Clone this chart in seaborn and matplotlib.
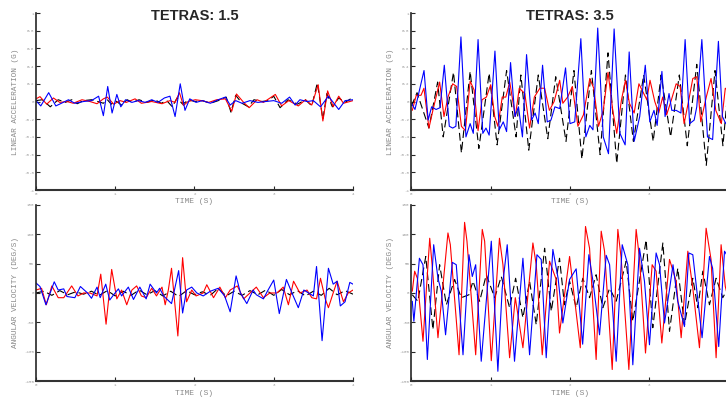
import matplotlib
matplotlib.use("Agg")
import matplotlib.pyplot as plt
import seaborn as sns

# ---- data (turning points of each trace) ----
TITLES = ["TETRAS: 1.5", "TETRAS: 3.5"]
ACC_LABEL = "LINEAR ACCELERATION (G)"
VEL_LABEL = "ANGULAR VELOCITY (DEG/S)"
TIME_LABEL = "TIME (S)"
X_TICKS_LEFT = [0, 1, 2, 3, 4]
X_TICK_LABELS_LEFT = ["0", "1", "2", "3", "4"]
X_TICKS_RIGHT = [0, 1, 2, 3]
X_TICK_LABELS_RIGHT = ["0", "1", "2", "3"]
ACC_TICKS = [-1, -0.8, -0.6, -0.4, -0.2, 0, 0.2, 0.4, 0.6, 0.8, 1]
ACC_TICK_LABELS = ["-1", "-0.8", "-0.6", "-0.4", "-0.2", "0", "0.2", "0.4", "0.6", "0.8", "1"]
VEL_TICKS = [-150, -100, -50, 0, 50, 100, 150]
VEL_TICK_LABELS = ["-150", "-100", "-50", "0", "50", "100", "150"]

# tetras 1.5, linear acceleration
acc15_blue_t = [0, 0.06, 0.16, 0.25, 0.32, 0.41, 0.49, 0.6, 0.7, 0.79,
                0.85, 0.905, 0.96, 1.02, 1.07, 1.13, 1.21, 1.29, 1.38, 1.46,
                1.54, 1.62, 1.69, 1.755, 1.82, 1.88, 1.94, 2.02, 2.1, 2.2,
                2.3, 2.39, 2.45, 2.52, 2.6, 2.7, 2.8, 2.9, 3.0, 3.1,
                3.2, 3.27, 3.33, 3.42, 3.5, 3.59, 3.69, 3.82, 3.9, 4.0]
acc15_blue_v = [0.01, -0.05, 0.1, -0.05, -0.02, 0.02, -0.02, 0.0, 0.01, 0.06,
                -0.16, 0.17, -0.13, 0.08, -0.06, 0.02, -0.01, 0.01, -0.01, 0.02,
                -0.01, 0.04, 0.06, -0.17, 0.2, -0.1, 0.03, -0.01, 0.01, -0.02,
                0.02, 0.05, -0.04, 0.01, -0.02, 0.01, -0.01, 0.0, 0.01, -0.02,
                0.05, -0.04, 0.02, 0.0, 0.01, -0.06, 0.06, -0.09, 0.01, 0.02]
acc15_red_t = [0, 0.05, 0.135, 0.22, 0.3, 0.39, 0.47, 0.58, 0.68, 0.77,
               0.85, 0.9, 0.98, 1.06, 1.14, 1.25, 1.33, 1.46, 1.59, 1.69,
               1.755, 1.81, 1.86, 1.92, 2.01, 2.09, 2.18, 2.28, 2.39, 2.47,
               2.53, 2.62, 2.69, 2.79, 2.87, 3.02, 3.1, 3.19, 3.31, 3.4,
               3.48, 3.56, 3.62, 3.68, 3.75, 3.82, 3.88, 3.96, 4.0]
acc15_red_v = [0.03, 0.055, -0.03, 0.04, -0.01, 0.0, -0.02, 0.02, 0.0, -0.025,
               0.03, 0.05, -0.03, 0.01, -0.01, 0.03, -0.02, 0.0, -0.025, 0.01,
               -0.01, 0.1, -0.045, 0.0, 0.02, 0.01, -0.01, 0.02, 0.03, -0.11,
               0.085, -0.01, -0.07, 0.02, -0.01, 0.08, -0.05, 0.01, -0.05, 0.02,
               -0.04, 0.19, -0.22, 0.12, -0.06, 0.06, -0.02, 0.0, 0.01]
acc15_black_t = [0, 0.08, 0.18, 0.28, 0.37, 0.45, 0.52, 0.6, 0.7, 0.78,
                 0.85, 0.9, 0.95, 1.0, 1.08, 1.15, 1.22, 1.3, 1.4, 1.5,
                 1.58, 1.65, 1.72, 1.78, 1.85, 1.93, 2.0, 2.1, 2.2, 2.3,
                 2.4, 2.46, 2.52, 2.6, 2.68, 2.75, 2.85, 2.93, 3.0, 3.08,
                 3.18, 3.3, 3.4, 3.48, 3.55, 3.62, 3.67, 3.74, 3.82, 3.9, 3.97]
acc15_black_v = [0.01, 0.02, -0.06, 0.02, -0.01, 0.02, -0.025, 0.01, 0.02, 0.0,
                 -0.02, 0.02, -0.03, 0.01, -0.04, 0.02, -0.01, 0.02, -0.01, 0.02,
                 -0.02, 0.01, -0.06, 0.04, -0.03, 0.02, 0.0, 0.01, -0.02, 0.01,
                 0.05, -0.12, 0.07, -0.02, -0.06, 0.02, 0.0, 0.01, 0.06, -0.07,
                 0.02, -0.03, 0.02, -0.05, 0.21, -0.2, 0.09, -0.06, 0.04, -0.01, 0.03]

# tetras 1.5, angular velocity
vel15_blue_t = [0, 0.05, 0.125, 0.23, 0.28, 0.35, 0.39, 0.49, 0.56, 0.65,
                0.7, 0.77, 0.81, 0.88, 0.93, 0.98, 1.04, 1.08, 1.165, 1.23,
                1.31, 1.39, 1.44, 1.52, 1.56, 1.61, 1.71, 1.8, 1.85, 1.9,
                1.965, 2.03, 2.11, 2.2, 2.3, 2.38, 2.45, 2.525, 2.58, 2.66,
                2.74, 2.78, 2.87, 2.92, 3.0, 3.07, 3.16, 3.23, 3.31, 3.38,
                3.44, 3.5, 3.54, 3.61, 3.69, 3.75, 3.8, 3.84, 3.9, 3.96, 4.0]
vel15_blue_v = [17, 11, -20, 19, 5, 7, -6, -8, 11, 0,
                -9, 10, -8, 15, -12, -3, 7, -5, 10, -11,
                10, -10, 15, 0, 8, -5, -18, 38, -34, 5,
                10, 0, -5, 3, 8, -5, -32, 29, 0, -18,
                5, -3, -10, 3, 22, -35, 23, 0, -25, 5,
                0, -5, 45, -81, 42, 15, 20, -22, -15, 18, 15]
vel15_red_t = [0, 0.07, 0.13, 0.2, 0.28, 0.35, 0.45, 0.53, 0.6, 0.68,
               0.77, 0.817, 0.884, 0.955, 1.02, 1.08, 1.145, 1.21, 1.27, 1.33,
               1.39, 1.46, 1.52, 1.59, 1.63, 1.67, 1.71, 1.79, 1.85, 1.9,
               1.965, 2.02, 2.11, 2.155, 2.24, 2.32, 2.39, 2.45, 2.54, 2.62,
               2.7, 2.78, 2.87, 2.95, 3.04, 3.12, 3.185, 3.25, 3.33, 3.42,
               3.48, 3.54, 3.59, 3.65, 3.69, 3.75, 3.8, 3.88, 3.94, 4.0]
vel15_red_v = [5, 8, -20, 12, -8, -8, 12, -5, 0, 0,
               -5, 32, -53, 40, -10, 5, -20, 5, 12, -5,
               -8, 8, -5, 10, -20, 5, 42, -73, 60, -15,
               5, -5, 0, 14, -8, 10, -8, 5, 12, -10,
               0, 10, -8, 0, 0, 10, -20, 20, 0, 5,
               -8, -10, 25, -10, -25, 0, 20, -15, 0, 5]
vel15_black_t = [0, 0.1, 0.2, 0.3, 0.4, 0.5, 0.6, 0.7, 0.8, 0.9,
                 1.0, 1.1, 1.2, 1.3, 1.4, 1.5, 1.6, 1.7, 1.8, 1.9,
                 2.0, 2.1, 2.2, 2.3, 2.4, 2.5, 2.6, 2.7, 2.8, 2.9,
                 3.0, 3.1, 3.2, 3.3, 3.4, 3.5, 3.6, 3.7, 3.8, 3.9, 4.0]
vel15_black_v = [0, 3, -4, 4, -3, 2, -2, 3, -4, 4,
                 -5, 3, -4, 5, -3, 4, -5, 3, -6, 4,
                 -3, 2, -4, 8, -5, 3, -4, 4, -3, 5,
                 -4, 6, -3, 4, -5, 3, -4, 8, -3, 4, -2]

# tetras 3.5, linear acceleration
acc35_blue_t = [0, 0.044, 0.158, 0.21, 0.254, 0.31, 0.36, 0.414, 0.477, 0.52,
                0.56, 0.624, 0.687, 0.74, 0.78, 0.84, 0.9, 0.94, 0.98, 1.053,
                1.107, 1.158, 1.2, 1.25, 1.305, 1.35, 1.4, 1.452, 1.515, 1.56,
                1.6, 1.654, 1.713, 1.76, 1.81, 1.87, 1.944, 2.0, 2.06, 2.137,
                2.2, 2.25, 2.29, 2.35, 2.42, 2.486, 2.557, 2.63, 2.696, 2.747,
                2.81, 2.88, 2.95, 3.007, 3.06, 3.1, 3.16, 3.2, 3.25, 3.285,
                3.34, 3.4, 3.453, 3.51, 3.567, 3.6, 3.664, 3.735, 3.8, 3.873,
                3.924, 3.966, 4.0]
acc35_blue_v = [-0.02, -0.09, 0.35, -0.21, -0.06, -0.09, -0.07, 0.41, -0.28, -0.3,
                -0.28, 0.73, -0.4, -0.25, -0.36, 0.7, -0.36, -0.3, -0.38, 0.57,
                -0.32, -0.23, -0.34, 0.44, -0.17, -0.06, -0.4, 0.53, -0.21, -0.13,
                -0.25, 0.41, -0.23, -0.21, -0.06, -0.08, 0.38, -0.25, -0.23, 0.71,
                -0.4, -0.27, -0.32, 0.83, -0.4, -0.59, 0.82, -0.36, -0.49, 0.56,
                -0.45, -0.17, 0.41, -0.23, -0.1, -0.27, 0.34, -0.17, 0.09, -0.1,
                -0.1, -0.13, 0.7, -0.25, -0.21, -0.06, 0.7, -0.4, -0.43, 0.68,
                -0.17, -0.25, -0.2]
acc35_red_t = [0.01, 0.06, 0.12, 0.157, 0.22, 0.27, 0.355, 0.41, 0.46, 0.52,
               0.57, 0.63, 0.68, 0.74, 0.79, 0.84, 0.89, 0.945, 1.0, 1.05,
               1.09, 1.145, 1.19, 1.24, 1.31, 1.36, 1.43, 1.49, 1.55, 1.62,
               1.68, 1.74, 1.8, 1.87, 1.91, 1.97, 2.03, 2.1, 2.17, 2.25,
               2.3, 2.36, 2.42, 2.48, 2.54, 2.59, 2.65, 2.7, 2.75, 2.81,
               2.87, 2.92, 2.97, 3.01, 3.07, 3.12, 3.17, 3.22, 3.28, 3.34,
               3.39, 3.44, 3.5, 3.55, 3.6, 3.65, 3.72, 3.78, 3.84, 3.91,
               3.96, 4.0]
acc35_red_v = [-0.1, 0.07, 0.07, 0.15, -0.3, -0.1, 0.22, -0.17, 0.05, 0.2,
               0.17, -0.28, -0.33, 0.23, 0.13, -0.33, 0.02, 0.05, 0.19, -0.17,
               -0.28, 0.05, 0.05, 0.22, -0.17, 0.15, 0.09, -0.3, 0.05, 0.15,
               0.15, -0.1, 0.0, 0.24, -0.02, 0.05, 0.17, -0.28, -0.15, 0.26,
               0.15, -0.28, -0.1, 0.33, -0.1, -0.36, 0.02, 0.24, -0.02, -0.13,
               0.2, 0.11, 0.02, 0.24, 0.0, -0.13, 0.05, -0.15, 0.02, 0.2,
               0.17, -0.25, 0.02, 0.26, 0.28, -0.23, 0.05, 0.26, -0.1, -0.25,
               0.15, 0.12]
acc35_black_t = [0, 0.07, 0.22, 0.33, 0.4, 0.53, 0.63, 0.74, 0.85, 0.98,
                 1.08, 1.2, 1.32, 1.38, 1.48, 1.6, 1.72, 1.82, 1.95, 2.05,
                 2.15, 2.27, 2.38, 2.48, 2.59, 2.7, 2.8, 2.93, 3.05, 3.15,
                 3.27, 3.38, 3.48, 3.6, 3.72, 3.83, 3.93, 4.0]
acc35_black_v = [-0.05, 0.1, -0.3, 0.22, -0.4, 0.33, -0.58, 0.34, -0.53, 0.32,
                 -0.49, 0.35, -0.4, 0.3, -0.55, 0.3, -0.42, 0.28, -0.45, 0.35,
                 -0.65, 0.35, -0.6, 0.55, -0.7, 0.3, -0.45, 0.3, -0.45, 0.3,
                 -0.4, 0.3, -0.5, 0.42, -0.72, 0.35, -0.5, 0.2]

# tetras 3.5, angular velocity
vel35_blue_t = [0.01, 0.03, 0.1, 0.145, 0.2, 0.28, 0.334, 0.376, 0.43, 0.515,
                0.565, 0.65, 0.725, 0.767, 0.81, 0.88, 1.007, 1.09, 1.145, 1.208,
                1.3, 1.406, 1.49, 1.583, 1.637, 1.7, 1.784, 1.85, 1.91, 1.995,
                2.078, 2.16, 2.238, 2.29, 2.373, 2.457, 2.5, 2.583, 2.659, 2.73,
                2.793, 2.877, 2.94, 3.003, 3.087, 3.13, 3.193, 3.256, 3.3, 3.36,
                3.445, 3.5, 3.55, 3.667, 3.76, 3.8, 3.877, 3.95, 4.0]
vel35_blue_v = [-14, -48, 59, 48, -113, 82, 25, 3, -71, 52,
                48, -105, 65, 28, 48, -116, 88, -133, 8, 82,
                -116, 59, -105, 65, 57, -110, 74, 25, -51, 23,
                41, -87, 65, 20, -71, 64, 48, -116, 82, 48,
                -122, 76, 20, -88, 68, 48, -51, 6, 48, -14,
                -57, 68, 65, -76, 62, 42, -91, 71, 60]
vel35_red_t = [0.01, 0.04, 0.074, 0.145, 0.23, 0.26, 0.334, 0.46, 0.49, 0.6,
               0.67, 0.7, 0.81, 0.893, 0.923, 1.007, 1.11, 1.154, 1.238, 1.31,
               1.406, 1.532, 1.574, 1.65, 1.742, 1.826, 1.868, 1.995, 2.13, 2.196,
               2.247, 2.33, 2.394, 2.436, 2.533, 2.604, 2.646, 2.743, 2.835, 2.877,
               2.953, 3.037, 3.087, 3.159, 3.256, 3.34, 3.403, 3.487, 3.55, 3.634,
               3.718, 3.78, 3.844, 3.907, 3.96, 4.0]
vel35_red_v = [3, 37, 25, -82, 93, 48, -76, 102, 82, -105,
               120, 88, -105, 108, 88, -115, 93, 48, -110, -8,
               -93, 85, 48, -105, 54, 23, -68, 62, -93, 113,
               76, -113, 105, 71, -130, 108, 59, -130, 108, 59,
               -102, 48, 37, -85, 57, 20, -76, 71, 8, -93,
               110, 57, -110, 82, 11, -10]
vel35_black_t = [0.01, 0.08, 0.18, 0.27, 0.355, 0.44, 0.544, 0.628, 0.725, 0.776,
                 0.86, 0.944, 1.05, 1.133, 1.238, 1.314, 1.406, 1.49, 1.574, 1.68,
                 1.764, 1.868, 1.93, 1.995, 2.078, 2.162, 2.247, 2.33, 2.415, 2.5,
                 2.583, 2.709, 2.793, 2.961, 3.045, 3.172, 3.256, 3.36, 3.445, 3.55,
                 3.613, 3.676, 3.76, 3.844, 3.928, 4.0]
vel35_black_v = [-3, -14, 62, -62, 48, -20, 23, -8, -3, 20,
                 -14, 31, -8, 28, -25, 25, -42, 20, -54, 76,
                 -31, 59, -20, 20, -25, 25, -8, 31, -25, 8,
                 -14, 54, -48, 90, -59, 85, -65, 42, -54, 25,
                 -25, 37, -20, 25, -8, 10]

# ---- figure ----
sns.set_style("ticks")
plt.rcParams["font.family"] = ["Liberation Mono", "DejaVu Sans Mono"]

fig = plt.figure(figsize=(7.26, 3.98), dpi=100)
ax_tl = fig.add_axes([0.0496, 0.5226, 0.4366, 0.4447])
ax_tr = fig.add_axes([0.5668, 0.5226, 0.4366, 0.4447])
ax_bl = fig.add_axes([0.0496, 0.042, 0.4366, 0.4437])
ax_br = fig.add_axes([0.5668, 0.042, 0.4366, 0.4437])

panels = [
    (ax_tl, (acc15_black_t, acc15_black_v), (acc15_red_t, acc15_red_v), (acc15_blue_t, acc15_blue_v)),
    (ax_tr, (acc35_black_t, acc35_black_v), (acc35_red_t, acc35_red_v), (acc35_blue_t, acc35_blue_v)),
    (ax_bl, (vel15_black_t, vel15_black_v), (vel15_red_t, vel15_red_v), (vel15_blue_t, vel15_blue_v)),
    (ax_br, (vel35_black_t, vel35_black_v), (vel35_red_t, vel35_red_v), (vel35_blue_t, vel35_blue_v)),
]

for ax, black, red, blue in panels:
    sns.lineplot(x=black[0], y=black[1], ax=ax, color="black", linewidth=0.8,
                 linestyle=(0, (7, 3.5)), sort=False, estimator=None)
    sns.lineplot(x=red[0], y=red[1], ax=ax, color="#ff0000", linewidth=0.8,
                 sort=False, estimator=None)
    sns.lineplot(x=blue[0], y=blue[1], ax=ax, color="#0000ff", linewidth=0.8,
                 sort=False, estimator=None)

for ax in (ax_tl, ax_tr):
    ax.set_ylim(-1, 1)
    ax.set_yticks(ACC_TICKS, ACC_TICK_LABELS)
    ax.set_ylabel(ACC_LABEL)
    ax.set_xlabel(TIME_LABEL)
    ax.xaxis.set_label_coords(0.5, -0.045)
for ax in (ax_bl, ax_br):
    ax.set_ylim(-150, 150)
    ax.set_yticks(VEL_TICKS, VEL_TICK_LABELS)
    ax.set_ylabel(VEL_LABEL)
    ax.set_xlabel(TIME_LABEL)
    ax.xaxis.set_label_coords(0.5, -0.05)

for ax in (ax_tl, ax_bl):
    ax.set_xticks(X_TICKS_LEFT, X_TICK_LABELS_LEFT)
for ax in (ax_tr, ax_br):
    ax.set_xticks(X_TICKS_RIGHT, X_TICK_LABELS_RIGHT)

for ax in (ax_tl, ax_tr, ax_bl, ax_br):
    ax.set_xlim(0, 4)
    ax.yaxis.set_label_coords(-0.055, 0.5)
    ax.yaxis.label.set_color("#888888")
    ax.yaxis.label.set_fontsize(5.6)
    ax.xaxis.label.set_color("#888888")
    ax.xaxis.label.set_fontsize(5.8)
    ax.tick_params(direction="in", length=3, width=0.8, labelsize=3,
                   labelcolor="#999999", pad=1.5)
    for side in ("top", "right"):
        ax.spines[side].set_visible(False)
    ax.spines["left"].set_linewidth(1.2)
    ax.spines["bottom"].set_linewidth(1.5)
    ax.spines["bottom"].set_color("#333333")
    ax.set_facecolor("none")

for ax, title in zip((ax_tl, ax_tr), TITLES):
    ax.text(0.5, 0.985, title, transform=ax.transAxes, ha="center", va="center",
            fontsize=10.5, fontweight="bold", family=["Liberation Sans", "DejaVu Sans"])

fig.savefig("out.png", dpi=100)
